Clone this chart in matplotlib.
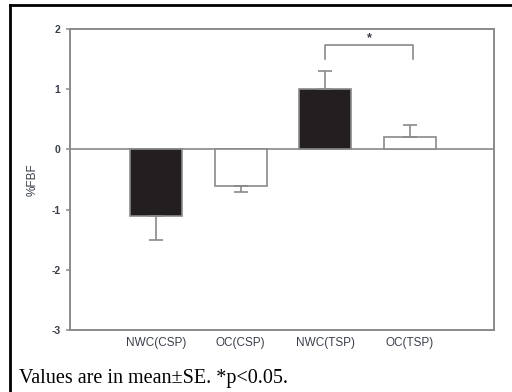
import matplotlib
matplotlib.use("Agg")
import matplotlib.pyplot as plt

groups = ["NWC(CSP)", "OC(CSP)", "NWC(TSP)", "OC(TSP)"]
means = [-1.1, -0.6, 1.0, 0.2]
errors = [0.4, 0.1, 0.3, 0.2]
fills = ["#231f20", "white", "#231f20", "white"]
yticks = [-3, -2, -1, 0, 1, 2]
caption = "Values are in mean\u00b1SE. *p<0.05."

W, H = 512, 392
fig = plt.figure(figsize=(W / 100, H / 100), dpi=100)
ax = fig.add_axes([70 / W, 1 - 330 / H, 424 / W, 301 / H])

line_c = "#8a8a8a"
text_c = "#3a3f4a"
sans = "Liberation Sans"
x = list(range(len(groups)))

ax.bar(x, means, width=0.615, color=fills, edgecolor=line_c, linewidth=1.2, zorder=2)
for xi, m, e in zip(x, means, errors):
    yerr = [[0], [e]] if m >= 0 else [[e], [0]]
    ax.errorbar(xi, m, yerr=yerr, fmt="none", ecolor=line_c, elinewidth=1.2,
                capsize=5, capthick=1.2, zorder=3)

ax.axhline(0, color=line_c, linewidth=1.2, zorder=1)

# significance bracket between NWC(TSP) and OC(TSP)
ax.plot([2.0, 2.0, 3.04, 3.04], [1.5, 1.73, 1.73, 1.5], color=line_c, linewidth=1.2)
ax.text(2.52, 1.84, "*", ha="center", va="center", fontsize=9, color=text_c,
        fontweight="bold", family=sans)

ax.set_xlim(-1.02, 4.0)
ax.set_ylim(-3, 2)
ax.set_yticks(yticks)
ax.set_yticklabels([str(t) for t in yticks], family=sans, fontweight="bold")
ax.set_xticks(x)
ax.set_xticklabels(groups, family=sans)
ax.tick_params(axis="x", length=0, pad=5, labelsize=8.5, labelcolor=text_c)
ax.tick_params(axis="y", length=3, width=1.1, color=line_c, pad=4, labelsize=7.5,
               labelcolor=text_c)
for s in ax.spines.values():
    s.set_color(line_c)
    s.set_linewidth(1.4)
ax.set_ylabel("%FBF", fontsize=8.5, color=text_c, labelpad=9, family=sans)

# outer frame (top and left edges only) and caption
fig.add_artist(plt.Line2D([10 / W, 1], [1 - 5 / H, 1 - 5 / H], color="black", linewidth=2))
fig.add_artist(plt.Line2D([10 / W, 10 / W], [0, 1 - 5 / H], color="black", linewidth=2))
fig.text(19 / W, 1 - 378 / H, caption, family="Liberation Serif", fontsize=14.5,
         va="center", ha="left", color="black")

fig.savefig("out.png", dpi=100)
